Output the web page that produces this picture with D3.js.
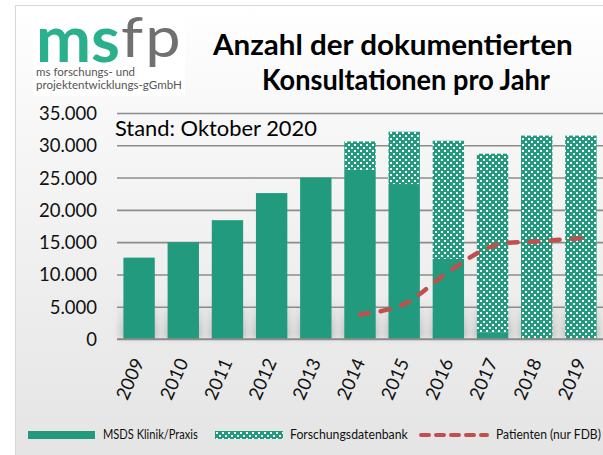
<!DOCTYPE html>
<html>
<head>
<meta charset="utf-8">
<script src="https://cdn.jsdelivr.net/npm/d3@7"></script>
<style>
  body { margin: 0; background: #fff; }
  text { font-family: Lato, "Open Sans", sans-serif; }
</style>
</head>
<body>
<div id="chart"></div>
<script>
// data
const years = ["2009", "2010", "2011", "2012", "2013", "2014", "2015", "2016", "2017", "2018", "2019"];
const klinik = [12600, 15000, 18400, 22600, 25000, 26200, 24000, 12400, 1000, 0, 0];
const fdb = [0, 0, 0, 0, 0, 4400, 8100, 18300, 27700, 31500, 31500];
const patienten = [null, null, null, null, null, 3800, 5400, 10400, 14400, 15100, 15600];
const yTicks = [0, 5000, 10000, 15000, 20000, 25000, 30000, 35000];
const legendLabels = ["MSDS Klinik/Praxis", "Forschungsdatenbank", "Patienten (nur FDB)"];

const green = "#219a7e", red = "#c0504d";
const W = 603, H = 455;

const de = d3.formatLocale({decimal: ",", thousands: ".", grouping: [3], currency: ["", "€"]});
const fmt = de.format(",");

// scale font-size so the text gets a given width
function fit(sel, w) {
    let fs = parseFloat(sel.attr("font-size"));
    let l = sel.node().getComputedTextLength();
    sel.attr("font-size", fs * w / l);
    return fs * w / l;
}
// keep font-size, squeeze horizontally to a given width
function squeeze(sel, w) {
    let x0 = +sel.attr("x");
    let l = sel.node().getComputedTextLength();
    sel.attr("transform", `translate(${x0},0) scale(${w / l},1) translate(${-x0},0)`);
}

let svg = d3.select("#chart").append("svg")
    .attr("width", W)
    .attr("height", H);

let defs = svg.append("defs");
let bg = defs.append("linearGradient").attr("id", "bg")
    .attr("x1", 0).attr("y1", 0).attr("x2", 0).attr("y2", 1);
bg.append("stop").attr("offset", "0%").attr("stop-color", "#ffffff");
bg.append("stop").attr("offset", "22%").attr("stop-color", "#f8f8f8");
bg.append("stop").attr("offset", "100%").attr("stop-color", "#e3e3e3");

let sh = defs.append("linearGradient").attr("id", "shade")
    .attr("x1", 0).attr("y1", 0).attr("x2", 0).attr("y2", 1);
sh.append("stop").attr("offset", "0%").attr("stop-color", "#888").attr("stop-opacity", 0);
sh.append("stop").attr("offset", "100%").attr("stop-color", "#888").attr("stop-opacity", 0.45);

let pat = defs.append("pattern").attr("id", "fdbPattern")
    .attr("patternUnits", "userSpaceOnUse")
    .attr("width", 6).attr("height", 6);
pat.append("rect").attr("width", 6).attr("height", 6).attr("fill", green);
pat.append("rect").attr("x", 0).attr("y", 0).attr("width", 2).attr("height", 2).attr("fill", "#fff");
pat.append("rect").attr("x", 3).attr("y", 3).attr("width", 2).attr("height", 2).attr("fill", "#fff");

defs.append("filter").attr("id", "blur")
    .attr("x", "-50%").attr("y", "-50%").attr("width", "200%").attr("height", "200%")
    .append("feGaussianBlur").attr("stdDeviation", 3);

// chart area
svg.append("rect").attr("x", 0).attr("y", 0).attr("width", W).attr("height", H).attr("fill", "#fff");
svg.append("rect")
    .attr("x", 15.5).attr("y", 5.5)
    .attr("width", W + 20).attr("height", H + 20)
    .attr("fill", "url(#bg)")
    .attr("stroke", "#d6d6d6");

// logo
let logo = svg.append("g").attr("class", "logo");
logo.append("rect").attr("x", 33).attr("y", 12).attr("width", 152).attr("height", 84).attr("fill", "#fff");
let ms = logo.append("text").attr("x", 36).attr("y", 62)
    .attr("font-family", "Liberation Sans, Arial, sans-serif")
    .attr("font-weight", "bold").attr("font-size", 64)
    .attr("fill", "#2bb08e").text("ms");
squeeze(ms, 84);
let fp = logo.append("text").attr("x", 121).attr("y", 57)
    .attr("font-family", "Liberation Sans, Arial, sans-serif")
    .attr("font-size", 56).attr("letter-spacing", 2).attr("fill", "#707070").text("fp");
squeeze(fp, 62);
logo.append("text").attr("x", 36).attr("y", 76)
    .attr("font-family", "Liberation Sans, Arial, sans-serif")
    .attr("font-size", 11.5).attr("fill", "#555").text("ms forschungs- und");
let sub = logo.append("text").attr("x", 36).attr("y", 89)
    .attr("font-family", "Liberation Sans, Arial, sans-serif")
    .attr("font-size", 11.5).attr("fill", "#555").text("projektentwicklungs-gGmbH");
fit(sub, 146);

// title
let t1 = svg.append("text").attr("x", 213).attr("y", 55)
    .attr("font-weight", "bold").attr("font-size", 28).attr("fill", "#000")
    .text("Anzahl der dokumentierten");
squeeze(t1, 360);
let t2 = svg.append("text").attr("x", 262).attr("y", 90)
    .attr("font-weight", "bold").attr("font-size", 28).attr("fill", "#000")
    .text("Konsultationen pro Jahr");
squeeze(t2, 288);

// scales
let x = d3.scaleBand().domain(years).range([117, 603]).paddingInner(0.29).paddingOuter(0.145);
let y = d3.scaleLinear().domain([0, 35000]).range([339, 113]);

// gridlines
let yAxis = d3.axisLeft(y).tickValues(yTicks).tickFormat(fmt).tickSize(-(603 - 117)).tickPadding(20);
let gy = svg.append("g").attr("class", "yaxis")
    .attr("transform", "translate(117,0)")
    .call(yAxis);
gy.select(".domain").remove();
gy.selectAll(".tick line").attr("stroke", "#8c8c8c").attr("stroke-width", 1.6);
gy.selectAll(".tick text").attr("font-size", 20).attr("fill", "#111").attr("dy", "0.35em");
let yfs = fit(gy.selectAll(".tick text").filter(d => d === 35000), 58);
gy.selectAll(".tick text").attr("font-size", yfs).attr("font-family", "Lato, sans-serif");

// stand
let stand = svg.append("text").attr("x", 115).attr("y", 136)
    .attr("font-size", 21).attr("fill", "#000").text("Stand: Oktober 2020");
squeeze(stand, 202);

// soft shadows at bar feet
svg.append("g").selectAll("rect")
    .data(years)
    .join("rect")
    .attr("x", d => x(d) - 4)
    .attr("y", 298)
    .attr("width", x.bandwidth() + 8)
    .attr("height", 40)
    .attr("fill", "url(#shade)")
    .attr("filter", "url(#blur)");

// bars
let bars = svg.append("g").attr("class", "bars");
bars.selectAll(".klinik")
    .data(years)
    .join("rect")
    .attr("class", "klinik")
    .attr("x", d => x(d))
    .attr("width", x.bandwidth())
    .attr("y", (d, i) => y(klinik[i]))
    .attr("height", (d, i) => y(0) - y(klinik[i]))
    .attr("fill", green);
bars.selectAll(".fdb")
    .data(years)
    .join("rect")
    .attr("class", "fdb")
    .attr("x", d => x(d))
    .attr("width", x.bandwidth())
    .attr("y", (d, i) => y(klinik[i] + fdb[i]))
    .attr("height", (d, i) => y(klinik[i]) - y(klinik[i] + fdb[i]))
    .attr("fill", "url(#fdbPattern)");

// baseline on top
svg.append("line").attr("x1", 117).attr("x2", 603).attr("y1", y(0)).attr("y2", y(0))
    .attr("stroke", "#8c8c8c").attr("stroke-width", 1.6);

// patients line
let pts = years.map((d, i) => [x(d) + x.bandwidth() / 2, patienten[i]]).filter(p => p[1] != null);
let line = d3.line().x(p => p[0]).y(p => y(p[1])).curve(d3.curveCardinal.tension(0));
svg.append("path")
    .attr("d", line(pts))
    .attr("fill", "none")
    .attr("stroke", red)
    .attr("stroke-width", 4.5)
    .attr("stroke-linecap", "round")
    .attr("stroke-dasharray", "9,12");

// x labels
svg.append("g").selectAll("text")
    .data(years)
    .join("text")
    .attr("transform", d => `translate(${x(d) + x.bandwidth() / 2 + 5.5},362) rotate(-66)`)
    .attr("text-anchor", "end")
    .attr("font-size", yfs)
    .attr("fill", "#111")
    .text(d => d);

// legend
let lg = svg.append("g").attr("class", "legend");
lg.append("rect").attr("x", 28).attr("y", 431).attr("width", 67).attr("height", 8).attr("fill", green);
lg.append("rect").attr("x", 215).attr("y", 431).attr("width", 68).attr("height", 8).attr("fill", "url(#fdbPattern)");
lg.append("line").attr("x1", 421).attr("x2", 487).attr("y1", 435).attr("y2", 435)
    .attr("stroke", red).attr("stroke-width", 4).attr("stroke-linecap", "round")
    .attr("stroke-dasharray", "8,7");
let lx = [103, 290, 496], lw = [95, 118, 105];
legendLabels.forEach((t, i) => {
    let tx = lg.append("text").attr("x", lx[i]).attr("y", 439.5)
        .attr("font-size", 13).attr("fill", "#111").text(t);
    squeeze(tx, lw[i]);
});
</script>
</body>
</html>
